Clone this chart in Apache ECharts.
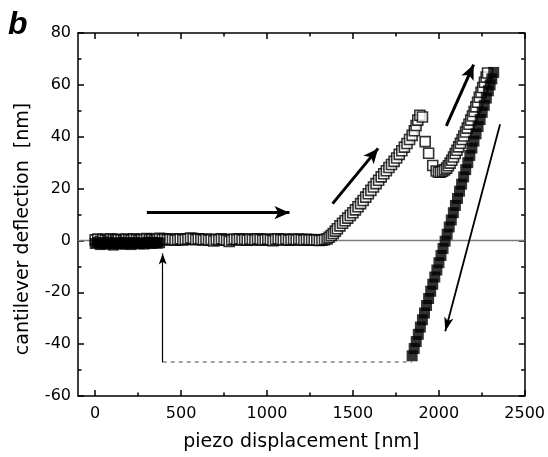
<!DOCTYPE html>
<html>
<head>
<meta charset="utf-8">
<script src="https://cdn.jsdelivr.net/npm/echarts@6/dist/echarts.min.js"></script>
<style>html,body{margin:0;padding:0;background:#fff}#c{width:548px;height:457px}</style>
</head>
<body>
<div id="c"></div>
<script>
// ---- data ----
var xTickMajor = [0, 500, 1000, 1500, 2000, 2500];
var xTickMinor = [250, 750, 1250, 1750, 2250];

// approach curve (open squares)
var approachX = [
  0,15,30,45,60,75,90,105,120,135,
  150,165,180,195,210,225,240,255,270,285,
  300,315,330,345,360,375,390,405,420,435,
  450,465,480,495,510,525,540,555,570,585,
  600,615,630,645,660,675,690,705,720,735,
  750,765,780,795,810,825,840,855,870,885,
  900,915,930,945,960,975,990,1005,1020,1035,
  1050,1065,1080,1095,1110,1125,1140,1155,1170,1185,
  1200,1215,1230,1245,1260,1275,1290,1305,1320,1335,
  1350,1362,1374,1386,1398,1410,1425,1440,1455,1470,
  1485,1500,1515,1530,1545,1560,1575,1590,1605,1620,
  1635,1650,1665,1680,1695,1710,1725,1740,1755,1770,
  1785,1800,1815,1830,1845,1858,1868,1878,1890,1905,
  1921,1941,1965,1985,1998,2010,2022,2034,
  2046,2056,2066,2076,2086,2096,2106,2116,2126,2136,
  2146,2156,2166,2176,2186,2196,2206,2216,2226,2236,
  2246,2256,2266,2276,2284
];
var approachY = [
  0.2,0.5,-0.3,0.4,0.1,-0.2,0.6,0.3,0.0,0.4,
  0.2,-0.1,0.5,0.3,0.1,0.6,0.2,-0.2,0.4,0.3,
  0.7,0.2,0.5,0.1,0.4,0.8,0.3,0.6,0.2,0.5,
  0.4,0.1,0.3,0.6,0.2,0.4,0.5,0.9,0.7,0.3,
  0.6,0.4,0.2,0.5,0.1,0.3,-0.2,0.4,0.2,0.6,
  0.3,0.1,-0.4,0.2,0.5,0.3,0.6,0.2,0.4,0.1,
  0.5,0.3,0.2,0.6,0.4,0.1,0.3,0.5,0.2,-0.1,
  0.4,0.6,0.3,0.2,0.5,0.1,0.3,0.4,0.2,0.5,
  0.3,0.1,0.4,0.2,0.3,0.1,0.2,0.0,0.1,0.3,
  0.6,1.2,1.9,2.7,3.6,4.5,5.6,6.6,7.6,8.6,
  9.6,10.7,11.8,13.0,14.2,15.4,16.7,18.0,19.3,20.6,
  21.9,23.2,24.5,25.7,26.9,28.1,29.3,30.5,31.8,33.2,
  34.6,36.0,37.4,38.9,40.5,42.3,44.3,46.4,48.3,47.6,
  38.1,33.6,28.9,26.8,26.3,26.3,26.7,27.2,
  27.9,28.8,29.8,30.9,32.2,33.5,34.8,36.1,37.5,38.9,
  40.3,41.8,43.3,44.8,46.4,48.0,49.7,51.5,53.3,55.2,
  57.1,59.0,61.0,63.0,64.6
];

// retraction curve (filled squares)
var retractX = [
  2320,2309,2299,2289,2277,2265,2253,2241,2229,2217,
  2205,2193,2181,2169,2157,2145,2133,2121,2109,2097,
  2085,2073,2061,2049,2037,2025,2013,2001,1989,1977,
  1965,1953,1941,1929,1917,1905,1893,1881,1869,1857,1845,
  375,360,345,330,315,300,285,270,255,240,
  225,210,195,180,165,150,135,120,105,90,
  75,60,45,30,15,0
];
var retractY = [
  64.8,62.3,60.0,57.7,54.9,52.1,49.4,46.6,43.9,41.1,
  38.3,35.6,32.8,30.0,27.3,24.5,21.7,19.0,16.2,13.5,
  10.7,7.9,5.2,2.4,-0.3,-3.1,-5.8,-8.6,-11.4,-14.1,
  -16.9,-19.6,-22.4,-25.1,-28.0,-30.6,-33.4,-36.2,-39.0,-41.7,-44.5,
  -0.9,-1.1,-0.8,-1.2,-0.6,-1.0,-1.4,-0.9,-1.3,-1.1,
  -0.8,-1.6,-1.0,-1.3,-0.7,-1.5,-1.1,-0.9,-1.8,-1.3,
  -0.6,-1.4,-1.0,-1.6,-0.8,-1.2
];

// annotation arrows (data coordinates: [start, end])
var thickArrows = [
  [[301, 10.7], [1131, 10.7]],
  [[1382, 14.2], [1647, 35.5]],
  [[2044, 44.2], [2203, 67.8]]
];
var thinArrow = [[2357, 44.8], [2038, -35]];
var jumpArrow = [[393, -47], [393, -5]];
var jumpDash = [[393, -46.9], [1845, -46.9]];
var zeroLine = [[-100, 0], [2500, 0]];

function pairs(xs, ys) { return xs.map(function (x, i) { return [x, ys[i]]; }); }
function ml(a) { return [{ coord: a[0] }, { coord: a[1] }]; }
function plain(v) { return String(v); }

var FONT = 'DejaVu Sans';
var chart = echarts.init(document.getElementById('c'), null, { renderer: 'canvas' });

function xAx(pos, ticks, len, showLabel, showLine) {
  return {
    type: 'value', position: pos, min: -100, max: 2500,
    axisLine: { show: showLine, onZero: false, lineStyle: { color: '#000', width: 1.5 } },
    axisTick: { show: true, inside: true, length: len, customValues: ticks, lineStyle: { color: '#000', width: 1.5 } },
    axisLabel: showLabel ? { show: true, customValues: ticks, formatter: plain, margin: 10, color: '#000', fontFamily: FONT, fontSize: 16 } : { show: false },
    splitLine: { show: false }
  };
}
function yAx(pos, showLabel) {
  return {
    type: 'value', position: pos, min: -60, max: 80, interval: 20,
    axisLine: { show: true, onZero: false, lineStyle: { color: '#000', width: 1.5 } },
    axisTick: { show: true, inside: true, length: 6, lineStyle: { color: '#000', width: 1.5 } },
    minorTick: { show: true, splitNumber: 2, length: 3.5, lineStyle: { color: '#000', width: 1.5 } },
    axisLabel: showLabel ? { show: true, formatter: plain, margin: 7, color: '#000', fontFamily: FONT, fontSize: 16 } : { show: false },
    splitLine: { show: false }
  };
}

var xa0 = xAx('bottom', xTickMajor, 6, true, true);
xa0.name = 'piezo displacement [nm]';
xa0.nameLocation = 'middle';
xa0.nameGap = 37;
xa0.nameTextStyle = { color: '#000', fontFamily: FONT, fontSize: 19 };

chart.setOption({
  animation: false,
  backgroundColor: '#fff',
  grid: { left: 78, right: 21, top: 33, bottom: 58, containLabel: false },
  xAxis: [
    xa0,
    xAx('bottom', xTickMinor, 3.5, false, false),
    xAx('top', xTickMajor, 6, false, true),
    xAx('top', xTickMinor, 3.5, false, false)
  ],
  yAxis: [yAx('left', true), yAx('right', false)],
  graphic: [
    { type: 'text', left: 8, top: 9, style: { text: 'b', font: 'italic bold 32px "Liberation Sans"', fill: '#000' } },
    { type: 'text', x: 23, y: 229, rotation: Math.PI / 2,
      style: { text: 'cantilever deflection  [nm]', font: '19px "' + FONT + '"', fill: '#000', align: 'center', verticalAlign: 'middle' } }
  ],
  series: [
    { type: 'line', data: zeroLine, symbol: 'none', silent: true, z: 1,
      lineStyle: { color: '#7d7d7d', width: 1.5 } },
    { type: 'line', data: [], silent: true, z: 1,
      markLine: { silent: true, symbol: ['none', 'none'], label: { show: false },
        lineStyle: { color: '#888', width: 1.5, type: [4, 4] }, data: [ml(jumpDash)] } },
    { type: 'scatter', data: pairs(approachX, approachY), symbol: 'rect', symbolSize: 10, z: 3,
      itemStyle: { color: '#fff', borderColor: '#000', borderWidth: 1.6 } },
    { type: 'scatter', data: pairs(retractX, retractY), symbol: 'rect', symbolSize: 11, z: 4,
      itemStyle: { color: '#000', borderColor: '#000', borderWidth: 0 } },
    { type: 'line', data: [], silent: true, z: 5,
      markLine: { silent: true, symbol: ['none', 'arrow'], symbolSize: [10, 15], label: { show: false },
        lineStyle: { color: '#000', width: 3, type: 'solid' }, data: thickArrows.map(ml) } },
    { type: 'line', data: [], silent: true, z: 5,
      markLine: { silent: true, symbol: ['none', 'arrow'], symbolSize: [7, 14], label: { show: false },
        lineStyle: { color: '#000', width: 1.8, type: 'solid' }, data: [ml(thinArrow)] } },
    { type: 'line', data: [], silent: true, z: 5,
      markLine: { silent: true, symbol: ['none', 'arrow'], symbolSize: [6, 11], label: { show: false },
        lineStyle: { color: '#000', width: 1.2, type: 'solid' }, data: [ml(jumpArrow)] } }
  ]
});
</script>
</body>
</html>
